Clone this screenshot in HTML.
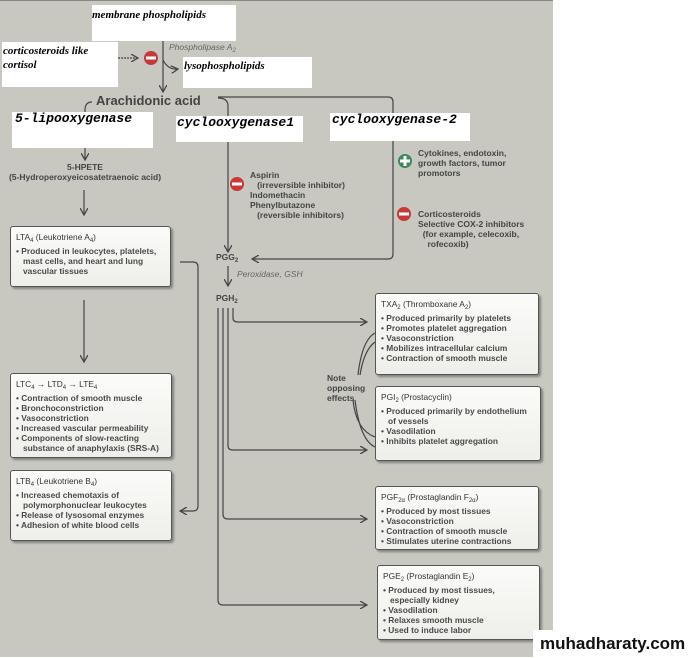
<!DOCTYPE html>
<html><head><meta charset="utf-8"><style>
html,body{margin:0;padding:0;background:#fff;}
body{width:691px;height:658px;position:relative;overflow:hidden;font-family:"Liberation Sans",sans-serif;}
.bg{position:absolute;left:0;top:0;width:553px;height:656px;background:#c8c8c1;border-top:1px solid #888;}
.wb{position:absolute;background:#fff;font-family:"Liberation Serif",serif;font-style:italic;font-weight:bold;color:#000;font-size:11px;line-height:14px;white-space:nowrap;}
.mono{font-family:"Liberation Mono",monospace;font-size:13px;letter-spacing:0;}
.box{position:absolute;background:linear-gradient(#fbfbf9,#eeeeea);border:1px solid #555;border-radius:3px;box-shadow:2px 2px 2px rgba(0,0,0,.35);font-size:8.4px;line-height:10px;color:#4a4a4a;font-weight:bold;padding:5px 4px 5px 5px;box-sizing:border-box;}
.box .t{font-weight:normal;color:#333;margin-bottom:4px;}
.box div.b{padding-left:7px;text-indent:-7px;}
.txt{position:absolute;font-size:8.5px;line-height:10px;color:#444;font-weight:bold;white-space:nowrap;}
sub{font-size:6px;vertical-align:-2px;line-height:0;}
</style></head><body>
<div class="bg"></div>
<svg style="position:absolute;left:0;top:0" width="553" height="658">
<defs><marker id="a" markerWidth="8" markerHeight="8" refX="7" refY="4" orient="auto" markerUnits="userSpaceOnUse"><path d="M0,0 L7,4 L0,8" fill="none" stroke="#444" stroke-width="1.3"/></marker></defs>
<g stroke="#444" stroke-width="1.2" fill="none">
<line x1="163" y1="38" x2="163" y2="92" marker-end="url(#a)"/>
<path d="M163,60 Q168,70 178,69" marker-end="url(#a)"/>
<line x1="118" y1="58" x2="138" y2="58" stroke-dasharray="2,1" marker-end="url(#a)"/>
<path d="M92,102 Q85,102 85,110 L85,160" marker-end="url(#a)"/>
<line x1="84" y1="190" x2="84" y2="215" marker-end="url(#a)"/>
<path d="M218,98 Q228,98 228,106 L228,252" marker-end="url(#a)"/>
<path d="M218,97 L388,97 Q393,97 393,102 L393,254 Q393,259 388,259 L252,259" marker-end="url(#a)"/>
<line x1="228" y1="266" x2="228" y2="286" marker-end="url(#a)"/>
<line x1="84" y1="300" x2="84" y2="362" marker-end="url(#a)"/>
<path d="M180,262 L193,262 Q198,262 198,267 L198,506 Q198,511 193,511 L180,511" marker-end="url(#a)"/>
<path d="M233,308 L233,318 Q233,322 238,322 L367,322" marker-end="url(#a)"/>
<path d="M228,308 L228,446 Q228,450 233,450 L367,450" marker-end="url(#a)"/>
<path d="M223,308 L223,514 Q223,519 228,519 L367,519" marker-end="url(#a)"/>
<path d="M218,308 L218,600 Q218,605 223,605 L367,605" marker-end="url(#a)"/>
<path d="M358,375 Q362,340 375,333"/><path d="M360,375 Q364,350 375,342"/>
<path d="M353,400 Q356,430 375,437"/><path d="M355,400 Q360,440 375,447"/>
</g>
<circle cx="151" cy="58" r="7" fill="#c8373a"/><rect x="146" y="56.5" width="10" height="3" fill="#fff"/>
<circle cx="237" cy="184" r="7" fill="#c8373a"/><rect x="232" y="182.5" width="10" height="3" fill="#fff"/>
<circle cx="404" cy="214" r="7" fill="#c8373a"/><rect x="399" y="212.5" width="10" height="3" fill="#fff"/>
<circle cx="405" cy="161" r="7" fill="#3f8a5a"/><rect x="400" y="159.5" width="10" height="3" fill="#fff"/><rect x="403.5" y="156" width="3" height="10" fill="#fff"/>
</svg>
<div class="txt" style="left:169px;top:42px;font-style:italic;font-weight:normal;color:#666">Phospholipase A<sub>2</sub></div>
<div class="txt" style="left:96px;top:93px;font-size:13px;line-height:15px;color:#444">Arachidonic acid</div>
<div class="txt" style="left:0px;top:162px;width:170px;text-align:center">5-HPETE<br>(5-Hydroperoxyeicosatetraenoic acid)</div>
<div class="txt" style="left:250px;top:170px">Aspirin<br>&nbsp;&nbsp;&nbsp;(irreversible inhibitor)<br>Indomethacin<br>Phenylbutazone<br>&nbsp;&nbsp;&nbsp;(reversible inhibitors)</div>
<div class="txt" style="left:418px;top:148px">Cytokines, endotoxin,<br>growth factors, tumor<br>promotors</div>
<div class="txt" style="left:418px;top:209px">Corticosteroids<br>Selective COX-2 inhibitors<br>&nbsp;&nbsp;(for example, celecoxib,<br>&nbsp;&nbsp;&nbsp;&nbsp;rofecoxib)</div>
<div class="txt" style="left:216px;top:252px">PGG<sub>2</sub></div>
<div class="txt" style="left:237px;top:269px;font-style:italic;font-weight:normal;color:#666">Peroxidase, GSH</div>
<div class="txt" style="left:216px;top:293px">PGH<sub>2</sub></div>
<div class="txt" style="left:327px;top:373px">Note<br>opposing<br>effects</div>

<div class="wb" style="left:92px;top:5px;width:144px;height:33px;padding:3px 0 0 0">membrane phospholipids</div>
<div class="wb" style="left:2px;top:42px;width:115px;height:43px;padding:2px 0 0 1px">corticosteroids like<br>cortisol</div>
<div class="wb" style="left:183px;top:57px;width:128px;height:29px;padding:2px 0 0 1px">lysophospholipids</div>
<div class="wb mono" style="left:12px;top:112px;width:138px;height:36px;padding:0 0 0 3px">5-lipooxygenase</div>
<div class="wb mono" style="left:176px;top:116px;width:126px;height:26px;padding:0 0 0 1px">cyclooxygenase1</div>
<div class="wb mono" style="left:330px;top:113px;width:138px;height:28px;padding:0 0 0 2px">cyclooxygenase-2</div>

<div class="box" style="left:10px;top:226px;width:161px;height:61px"><div class="t">LTA<sub>4</sub> (Leukotriene A<sub>4</sub>)</div><div class="b">• Produced in leukocytes, platelets, mast cells, and heart and lung vascular tissues</div></div>
<div class="box" style="left:10px;top:373px;width:162px;height:85px"><div class="t">LTC<sub>4</sub> → LTD<sub>4</sub> → LTE<sub>4</sub></div><div class="b">• Contraction of smooth muscle</div><div class="b">• Bronchoconstriction</div><div class="b">• Vasoconstriction</div><div class="b">• Increased vascular permeability</div><div class="b">• Components of slow-reacting substance of anaphylaxis (SRS-A)</div></div>
<div class="box" style="left:10px;top:470px;width:162px;height:71px"><div class="t">LTB<sub>4</sub> (Leukotriene B<sub>4</sub>)</div><div class="b">• Increased chemotaxis of polymorphonuclear leukocytes</div><div class="b">• Release of lysosomal enzymes</div><div class="b">• Adhesion of white blood cells</div></div>
<div class="box" style="left:375px;top:293px;width:164px;height:82px"><div class="t">TXA<sub>2</sub> (Thromboxane A<sub>2</sub>)</div><div class="b">• Produced primarily by platelets</div><div class="b">• Promotes platelet aggregation</div><div class="b">• Vasoconstriction</div><div class="b">• Mobilizes intracellular calcium</div><div class="b">• Contraction of smooth muscle</div></div>
<div class="box" style="left:375px;top:386px;width:166px;height:75px"><div class="t">PGI<sub>2</sub> (Prostacyclin)</div><div class="b">• Produced primarily by endothelium of vessels</div><div class="b">• Vasodilation</div><div class="b">• Inhibits platelet aggregation</div></div>
<div class="box" style="left:375px;top:486px;width:164px;height:64px"><div class="t">PGF<sub>2α</sub> (Prostaglandin F<sub>2α</sub>)</div><div class="b">• Produced by most tissues</div><div class="b">• Vasoconstriction</div><div class="b">• Contraction of smooth muscle</div><div class="b">• Stimulates uterine contractions</div></div>
<div class="box" style="left:377px;top:565px;width:163px;height:75px"><div class="t">PGE<sub>2</sub> (Prostaglandin E<sub>2</sub>)</div><div class="b">• Produced by most tissues, especially kidney</div><div class="b">• Vasodilation</div><div class="b">• Relaxes smooth muscle</div><div class="b">• Used to induce labor</div></div>
<div style="position:absolute;left:533px;top:630px;width:158px;height:28px;background:#fff;font-weight:bold;font-size:17px;line-height:28px;padding-left:7px;box-sizing:border-box;color:#111;white-space:nowrap;overflow:hidden">muhadharaty.com</div>
</body></html>
